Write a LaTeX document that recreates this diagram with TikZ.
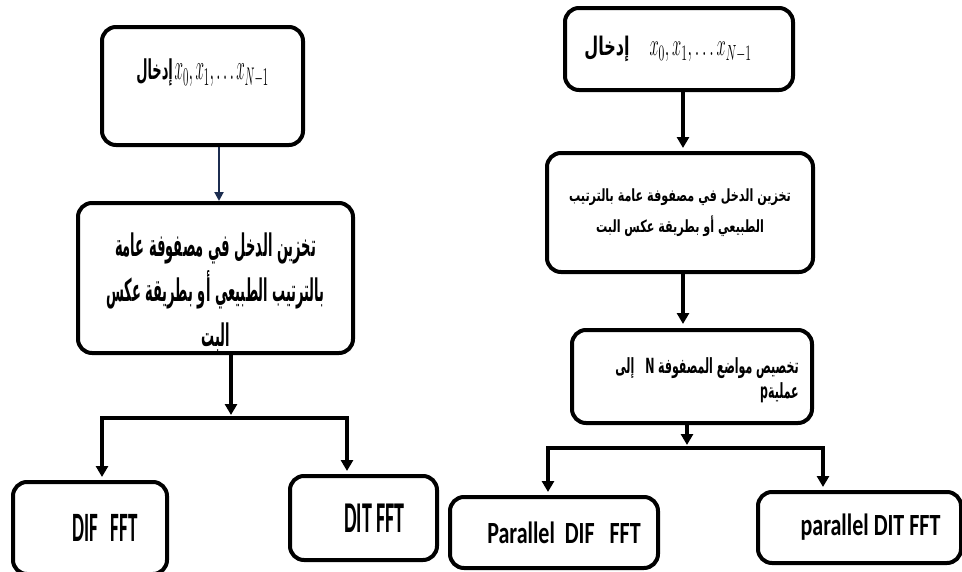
\documentclass[tikz,border=0pt]{standalone}
\usepackage{fix-cm}
\usepackage{fontspec}
\usepackage{graphicx}
\usetikzlibrary{arrows.meta}
\TeXXeTstate=1
\newfontfamily\arabicfont[Script=Arabic]{DejaVu Sans}
\newfontfamily\labelfont{Carlito}
\definecolor{navy}{RGB}{28,45,80}
\newcommand{\tall}[2][1.4]{\scalebox{1}[#1]{#2}}
\newcommand{\artext}[1]{{\arabicfont\bfseries\beginR #1\endR}}

\begin{document}
\begin{tikzpicture}[
  x=1pt, y=-1pt,
  box/.style={draw, line width=4pt, rounded corners=14pt, align=center, inner sep=0pt},
  arrow/.style={-{Triangle[length=11pt,width=12pt]}, line width=4pt},
  thinarrow/.style={-{Triangle[length=9pt,width=9pt]}, line width=2pt, draw=navy}
]
\useasboundingbox[fill=white] (0,0) rectangle (962,571);

% left chart
\node[box, minimum width=201pt, minimum height=118pt] (inL) at (202.5,86)
  {\rule[-33pt]{0pt}{33pt}\tall[2.1]{\fontsize{13}{16}\selectfont\artext{إدخال}}\,%
   \tall[2.4]{\fontsize{15.2}{18}\selectfont$x_0,x_1,\ldots x_{N-1}$}};
\node[box, minimum width=275pt, minimum height=150pt, font=\fontsize{13}{45}\selectfont] (storeL) at (215.5,278)
  {\rule{0pt}{52pt}\tall[2.4]{\artext{تخزين الدخل في مصفوفة عامة}}\\
   \tall[2.4]{\artext{بالترتيب الطبيعي أو بطريقة عكس}}\\
   \tall[2.4]{\artext{البت}}};
\node[box, minimum width=154pt, minimum height=92pt, font=\labelfont\bfseries\fontsize{19}{22}\selectfont] (difL) at (90,528)
  {\hspace*{30pt}\tall[2.2]{DIF\ \ \ FFT}};
\node[box, minimum width=147pt, minimum height=84pt, font=\labelfont\bfseries\fontsize{20}{22}\selectfont] (ditL) at (363.5,518)
  {\hspace*{22pt}\tall[2.2]{DIT FFT}};

\coordinate (forkL) at (231,418);
\draw[thinarrow] ([xshift=16.5pt]inL.south) -- ([xshift=16.5pt]inL.south |- storeL.north);
\draw[arrow, shorten >=3pt] (storeL.south -| forkL) -- (forkL);
\draw[arrow, shorten >=3pt] (forkL) -| ([xshift=12pt]difL.north);
\draw[arrow, shorten >=3pt] (forkL) -| ([xshift=-16.5pt]ditL.north);

% right chart
\node[box, minimum width=228pt, minimum height=82pt] (inR) at (679,49)
  {\tall[1.6]{\fontsize{16}{20}\selectfont\artext{إدخال}}\hspace{20pt}%
   \tall[1.9]{\fontsize{16.5}{20}\selectfont$x_0,x_1,\ldots x_{N-1}$}\hspace*{22pt}};
\node[box, minimum width=266pt, minimum height=119pt, font=\fontsize{11.2}{31}\selectfont] (storeR) at (680,212.5)
  {\tall[1.5]{\artext{تخزين الدخل في مصفوفة عامة بالترتيب}}\\
   \tall[1.5]{\artext{الطبيعي أو بطريقة عكس البت}}};
\node[box, minimum width=240pt, minimum height=93pt, align=right, font=\fontsize{11}{25}\selectfont] (allocR) at (692,376.5)
  {\rule{0pt}{24pt}\hspace*{30pt}\tall[1.9]{\artext{إلى}\quad{\arabicfont\bfseries N}\ \artext{تخصيص مواضع المصفوفة}}\\
   \tall[1.9]{{\arabicfont\bfseries p}\artext{عملية}}};
\node[box, minimum width=208pt, minimum height=71pt, font=\labelfont\bfseries\fontsize{22}{24}\selectfont] (pdifR) at (554,532.5)
  {\hspace*{20pt}\tall{Parallel\ \ DIF\ \ \ FFT}};
\node[box, minimum width=203pt, minimum height=71pt, font=\labelfont\bfseries\fontsize{22}{24}\selectfont] (pditR) at (859.5,527.5)
  {\hspace*{22pt}\tall{parallel DIT FFT}};

\coordinate (forkR) at (687,448);
\draw[arrow, shorten >=3pt] ([xshift=4pt]inR.south) -- ([xshift=4pt]inR.south |- storeR.north);
\draw[arrow, shorten >=4pt] ([xshift=3pt]storeR.south) -- ([xshift=3pt]storeR.south |- allocR.north);
\draw[arrow, shorten >=3pt] (allocR.south -| forkR) -- (forkR);
\draw[arrow, shorten >=3pt] (forkR) -| ([xshift=-6pt]pdifR.north);
\draw[arrow, shorten >=3pt] (forkR) -| ([xshift=-36.5pt]pditR.north);
\end{tikzpicture}
\end{document}
